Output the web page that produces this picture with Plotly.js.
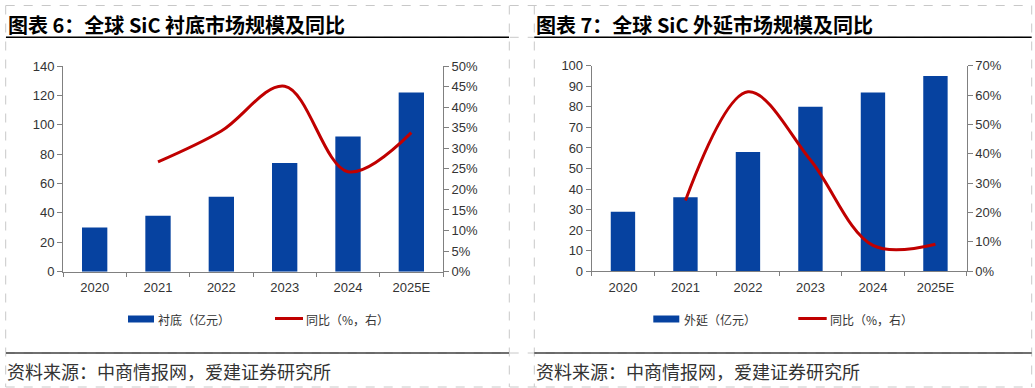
<!DOCTYPE html>
<html>
<head>
<meta charset="utf-8">
<script src="https://cdn.plot.ly/plotly-3.0.1.min.js"></script>
<style>
html,body{margin:0;padding:0;background:#fff;}
#chart{width:1035px;height:388px;}
</style>
</head>
<body>
<div id="chart"></div>
<script>
// ---- data ----
const years = ['2020', '2021', '2022', '2023', '2024', '2025E'];
const yoyYears = ['2021', '2022', '2023', '2024', '2025E'];

const substrateValues = [30, 38, 51, 74, 92, 122];          // 衬底（亿元）
const substrateYoY = [26.7, 34.2, 45.1, 24.3, 33.8];          // 同比（%，右）

const epiValues = [29, 36, 58, 80, 87, 95];                  // 外延（亿元）
const epiYoY = [24.1, 61.1, 37.9, 8.8, 9.2];                  // 同比（%，右）

const title1 = '图表 6：全球 SiC 衬底市场规模及同比';
const title2 = '图表 7：全球 SiC 外延市场规模及同比';
const source = '资料来源：中商情报网，爱建证券研究所';
const legendBar1 = '衬底（亿元）';
const legendBar2 = '外延（亿元）';
const legendLine = '同比（%，右）';

// ---- layout helpers ----
const W = 1035, H = 388;
const px = v => v / W;
const py = v => 1 - v / H;

const BLUE = '#0642a0';
const RED = '#c00000';
const AX = '#808080';
const TXT = '#333333';
const latin = 'Liberation Sans, Arial, sans-serif';
const cjk = 'Noto Sans CJK SC, sans-serif';

const traces = [
  {type: 'bar', x: years, y: substrateValues, xaxis: 'x', yaxis: 'y', width: 0.4,
   marker: {color: BLUE}, name: legendBar1, showlegend: false, hoverinfo: 'skip'},
  {type: 'scatter', mode: 'lines', x: yoyYears, y: substrateYoY, xaxis: 'x', yaxis: 'y2',
   line: {color: RED, width: 3, shape: 'spline', smoothing: 1}, name: legendLine, showlegend: false, hoverinfo: 'skip'},
  {type: 'bar', x: years, y: epiValues, xaxis: 'x2', yaxis: 'y3', width: 0.39,
   marker: {color: BLUE}, name: legendBar2, showlegend: false, hoverinfo: 'skip'},
  {type: 'scatter', mode: 'lines', x: yoyYears, y: epiYoY, xaxis: 'x2', yaxis: 'y4',
   line: {color: RED, width: 3, shape: 'spline', smoothing: 1}, name: legendLine, showlegend: false, hoverinfo: 'skip'}
];

function xAxis(domain, anchor) {
  return {domain: domain, anchor: anchor, type: 'category', showline: true, linecolor: AX, linewidth: 1,
    ticks: 'outside', tickson: 'boundaries', ticklen: 4, tickcolor: AX, showgrid: false, zeroline: false,
    ticklabelstandoff: 4,
    tickfont: {family: latin, size: 13, color: TXT}, fixedrange: true};
}
function yAxis(domain, anchor, range, dtick, suffix, side, overlaying) {
  const a = {domain: domain, anchor: anchor, range: range, dtick: dtick, tick0: 0, showline: true, linecolor: AX,
    linewidth: 1, ticks: 'outside', ticklen: 5, tickcolor: AX, showgrid: false, zeroline: false,
    tickfont: {family: latin, size: 13, color: TXT}, fixedrange: true, side: side};
  if (suffix) a.ticksuffix = suffix;
  if (overlaying) a.overlaying = overlaying;
  return a;
}

const dom1x = [px(63), px(443)];
const dom1y = [py(271.7), py(66)];
const dom2x = [px(591.7), px(966.7)];
const dom2y = [py(271.3), py(65.7)];

const shapes = [];
const dash = {color: '#c8c8c8', width: 1, dash: 'dash'};
[5.5, 37.3, 353, 387].forEach(y => shapes.push({type: 'line', xref: 'paper', yref: 'paper',
  x0: px(5.7), x1: px(1031.7), y0: py(y), y1: py(y), line: dash, layer: 'below'}));
[5.7, 509.3, 534.3, 1031.7].forEach(x => shapes.push({type: 'line', xref: 'paper', yref: 'paper',
  x0: px(x), x1: px(x), y0: py(5.5), y1: py(387), line: dash, layer: 'below'}));
// title underlines and bottom rules
[[6, 509], [534.3, 1031.7]].forEach(([a, b]) => {
  shapes.push({type: 'line', xref: 'paper', yref: 'paper', x0: px(a), x1: px(b), y0: py(37.3), y1: py(37.3),
    line: {color: '#000', width: 1.5}});
  shapes.push({type: 'line', xref: 'paper', yref: 'paper', x0: px(a), x1: px(b), y0: py(353), y1: py(353),
    line: {color: '#404040', width: 1.3}});
});
// legend swatches
[[128, 154], [653.3, 679.3]].forEach(([a, b]) => shapes.push({type: 'rect', xref: 'paper', yref: 'paper',
  x0: px(a), x1: px(b), y0: py(322.5), y1: py(315.5), fillcolor: BLUE, line: {width: 0}}));
[[275, 303], [798.3, 826.7]].forEach(([a, b]) => shapes.push({type: 'line', xref: 'paper', yref: 'paper',
  x0: px(a), x1: px(b), y0: py(318.5), y1: py(318.5), line: {color: RED, width: 3}}));

function ann(text, x, y, size, bold, color) {
  return {text: bold ? '<b>' + text + '</b>' : text, xref: 'paper', yref: 'paper', x: px(x), y: py(y),
    xanchor: 'left', yanchor: 'middle', showarrow: false,
    font: {family: cjk, size: size, color: color || TXT}};
}
const annotations = [
  ann(title1, 6, 24, 20, true, '#000'),
  ann(title2, 534, 24, 20, true, '#000'),
  ann(source, 5, 371, 18, false, '#333'),
  ann(source, 533.5, 371, 18, false, '#333'),
  ann(legendBar1, 156, 319, 12, false, '#333'),
  ann(legendLine, 304, 319, 12, false, '#333'),
  ann(legendBar2, 681.5, 319, 12, false, '#333'),
  ann(legendLine, 828, 319, 12, false, '#333')
];

const layout = {
  width: W, height: H,
  margin: {l: 0, r: 0, t: 0, b: 0, pad: 0},
  paper_bgcolor: '#fff', plot_bgcolor: 'rgba(0,0,0,0)',
  showlegend: false,
  xaxis: xAxis(dom1x, 'y'),
  yaxis: yAxis(dom1y, 'x', [0, 140], 20, '', 'left'),
  yaxis2: yAxis(dom1y, 'x', [0, 50], 5, '%', 'right', 'y'),
  xaxis2: xAxis(dom2x, 'y3'),
  yaxis3: yAxis(dom2y, 'x2', [0, 100], 10, '', 'left'),
  yaxis4: yAxis(dom2y, 'x2', [0, 70], 10, '%', 'right', 'y3'),
  shapes: shapes,
  annotations: annotations
};

Plotly.newPlot('chart', traces, layout, {staticPlot: true, displayModeBar: false});
</script>
</body>
</html>
